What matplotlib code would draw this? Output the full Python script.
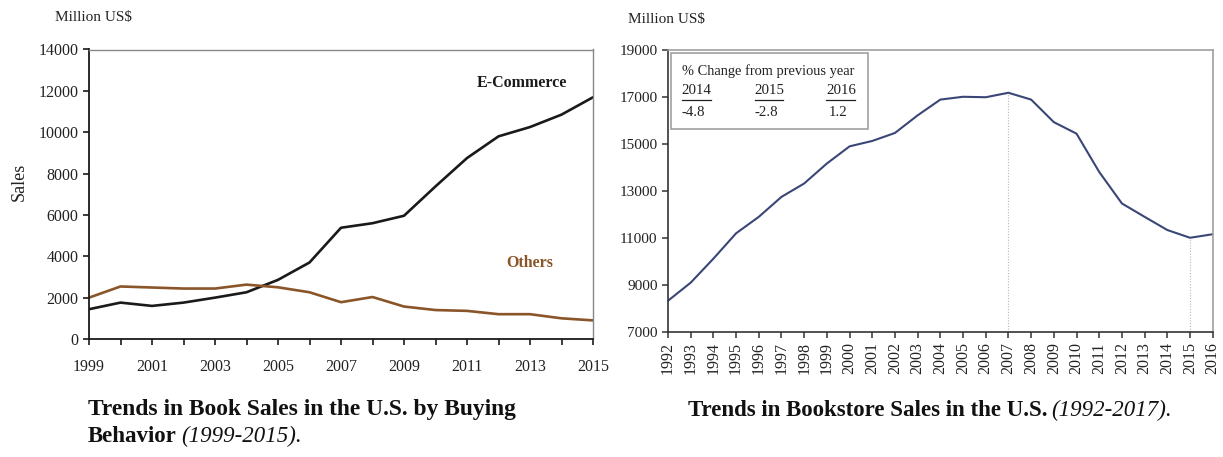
import matplotlib
matplotlib.use("Agg")
import matplotlib.pyplot as plt
from matplotlib.lines import Line2D

# ---------------- data ----------------
years_left = list(range(1999, 2016))
ecommerce = [1440, 1760, 1600, 1760, 2000, 2260, 2860, 3700, 5380, 5600, 5960,
             7380, 8750, 9800, 10250, 10850, 11690]
others = [2000, 2540, 2490, 2440, 2440, 2630, 2500, 2260, 1780, 2030, 1570,
          1400, 1360, 1200, 1200, 1000, 900]
left_yticks = list(range(0, 14001, 2000))

years_right = list(range(1992, 2017))
bookstore = [8330, 9100, 10120, 11200, 11900, 12750, 13320, 14170, 14900, 15130,
             15470, 16220, 16890, 17010, 16990, 17180, 16890, 15930, 15440, 13810,
             12470, 11900, 11340, 11010, 11160]
right_yticks = list(range(7000, 19001, 2000))
marked_years = [2007, 2015]

change_years = ["2014", "2015", "2016"]
change_values = ["-4.8", "-2.8", "1.2"]

W, H = 1223, 457
fig = plt.figure(figsize=(W / 100, H / 100), dpi=100)
plt.rcParams['font.family'] = ['Liberation Serif', 'DejaVu Serif']

def fx(px):
    return px / W

def fy(py):
    return 1 - py / H

BLACK = '#1a1a1a'
BROWN = '#8a5528'
NAVY = '#3a4676'
GRAY = '#a0a0a0'
TXT = '#222222'

# ---------------- left chart ----------------
axL = fig.add_axes([fx(89), fy(339), fx(593) - fx(89), fy(49.5) - fy(339)])
axL.plot(years_left, ecommerce, color=BLACK, lw=1.9)
axL.plot(years_left, others, color=BROWN, lw=1.9)
axL.set_xlim(1999, 2015)
axL.set_ylim(0, 14000)
axL.set_xticks(years_left)
axL.set_xticklabels([str(y) if (y - 1999) % 2 == 0 else "" for y in years_left])
axL.set_yticks(left_yticks)
axL.tick_params(axis='both', direction='out', length=4.5, width=1.2, color=BLACK,
                labelsize=11.5, labelcolor=TXT, pad=3)
axL.tick_params(axis='x', pad=10)
for s in ['left', 'bottom']:
    axL.spines[s].set_color(BLACK)
    axL.spines[s].set_linewidth(1.3)
for s in ['top', 'right']:
    axL.spines[s].set_color('#888888')
    axL.spines[s].set_linewidth(1.0)
fig.text(fx(522), fy(83), "E-Commerce", ha='center', va='center', fontsize=11.5,
         fontweight='bold', color=BLACK)
fig.text(fx(530), fy(263), "Others", ha='center', va='center', fontsize=11.5,
         fontweight='bold', color=BROWN)
fig.text(fx(55), fy(18), "Million US$", ha='left', va='center', fontsize=11, color=TXT)
fig.text(fx(19), fy(182), "Sales", ha='center', va='center', rotation=90,
         fontsize=13, color=TXT)

# ---------------- right chart ----------------
axR = fig.add_axes([fx(668), fy(332), fx(1212.7) - fx(668), fy(50) - fy(332)])
axR.plot(years_right, bookstore, color=NAVY, lw=1.5)
for yr in marked_years:
    v = bookstore[years_right.index(yr)]
    axR.plot([yr, yr], [7000, v], color='#b8b8b8', lw=0.8, ls=(0, (1, 1.5)))
axR.set_xlim(1992, 2016)
axR.set_ylim(7000, 19000)
axR.set_xticks(years_right)
axR.set_xticklabels([str(y) for y in years_right], rotation=90)
axR.set_yticks(right_yticks)
axR.tick_params(axis='both', direction='out', length=4.5, width=1.1, color='#333333',
                labelsize=11, labelcolor=TXT, pad=3)
axR.tick_params(axis='x', labelsize=11.5, pad=3)
for s in ['left', 'bottom']:
    axR.spines[s].set_color('#333333')
    axR.spines[s].set_linewidth(1.2)
for s in ['top', 'right']:
    axR.spines[s].set_color(GRAY)
    axR.spines[s].set_linewidth(1.2)
fig.text(fx(628), fy(19), "Million US$", ha='left', va='center', fontsize=11, color=TXT)

# inset box
box = plt.Rectangle((fx(671), fy(129)), fx(868) - fx(671), fy(53) - fy(129),
                    transform=fig.transFigure, fill=False, edgecolor=GRAY, lw=1.2)
fig.add_artist(box)
fig.text(fx(681.5), fy(71), "% Change from previous year", ha='left', va='center',
         fontsize=10.4, color=TXT)
col_left = [681.5, 754.5, 826]
col_right = [710.6, 783, 855]
for i in range(3):
    fig.text(fx(col_left[i]), fy(91), change_years[i], ha='left', va='center',
             fontsize=10.7, color=TXT)
    fig.add_artist(Line2D([fx(col_left[i]), fx(col_right[i])], [fy(99.5), fy(99.5)],
                          transform=fig.transFigure, color=TXT, lw=0.9))
fig.text(fx(681.5), fy(112), change_values[0], ha='left', va='center', fontsize=10.7, color=TXT)
fig.text(fx(754.5), fy(112), change_values[1], ha='left', va='center', fontsize=10.7, color=TXT)
fig.text(fx(838), fy(112), change_values[2], ha='center', va='center', fontsize=10.7, color=TXT)

# ---------------- captions ----------------
fig.canvas.draw()
renderer = fig.canvas.get_renderer()
CAP = 16.5

def caption(x, y, bold_txt, ital_txt, size=CAP):
    t = fig.text(fx(x), fy(y), bold_txt, ha='left', va='center', fontsize=size,
                 fontweight='bold', color='#111111')
    bb = t.get_window_extent(renderer=renderer)
    fig.text(bb.x1 / W + fx(4), fy(y), ital_txt, ha='left', va='center', fontsize=size,
             fontstyle='italic', color='#111111')

fig.text(fx(88), fy(410), "Trends in Book Sales in the U.S. by Buying", ha='left',
         va='center', fontsize=16.9, fontweight='bold', color='#111111')
caption(88, 436, "Behavior", "(1999-2015).")
caption(688, 410, "Trends in Bookstore Sales in the U.S.", "(1992-2017).")

fig.savefig("out.png", dpi=100)
